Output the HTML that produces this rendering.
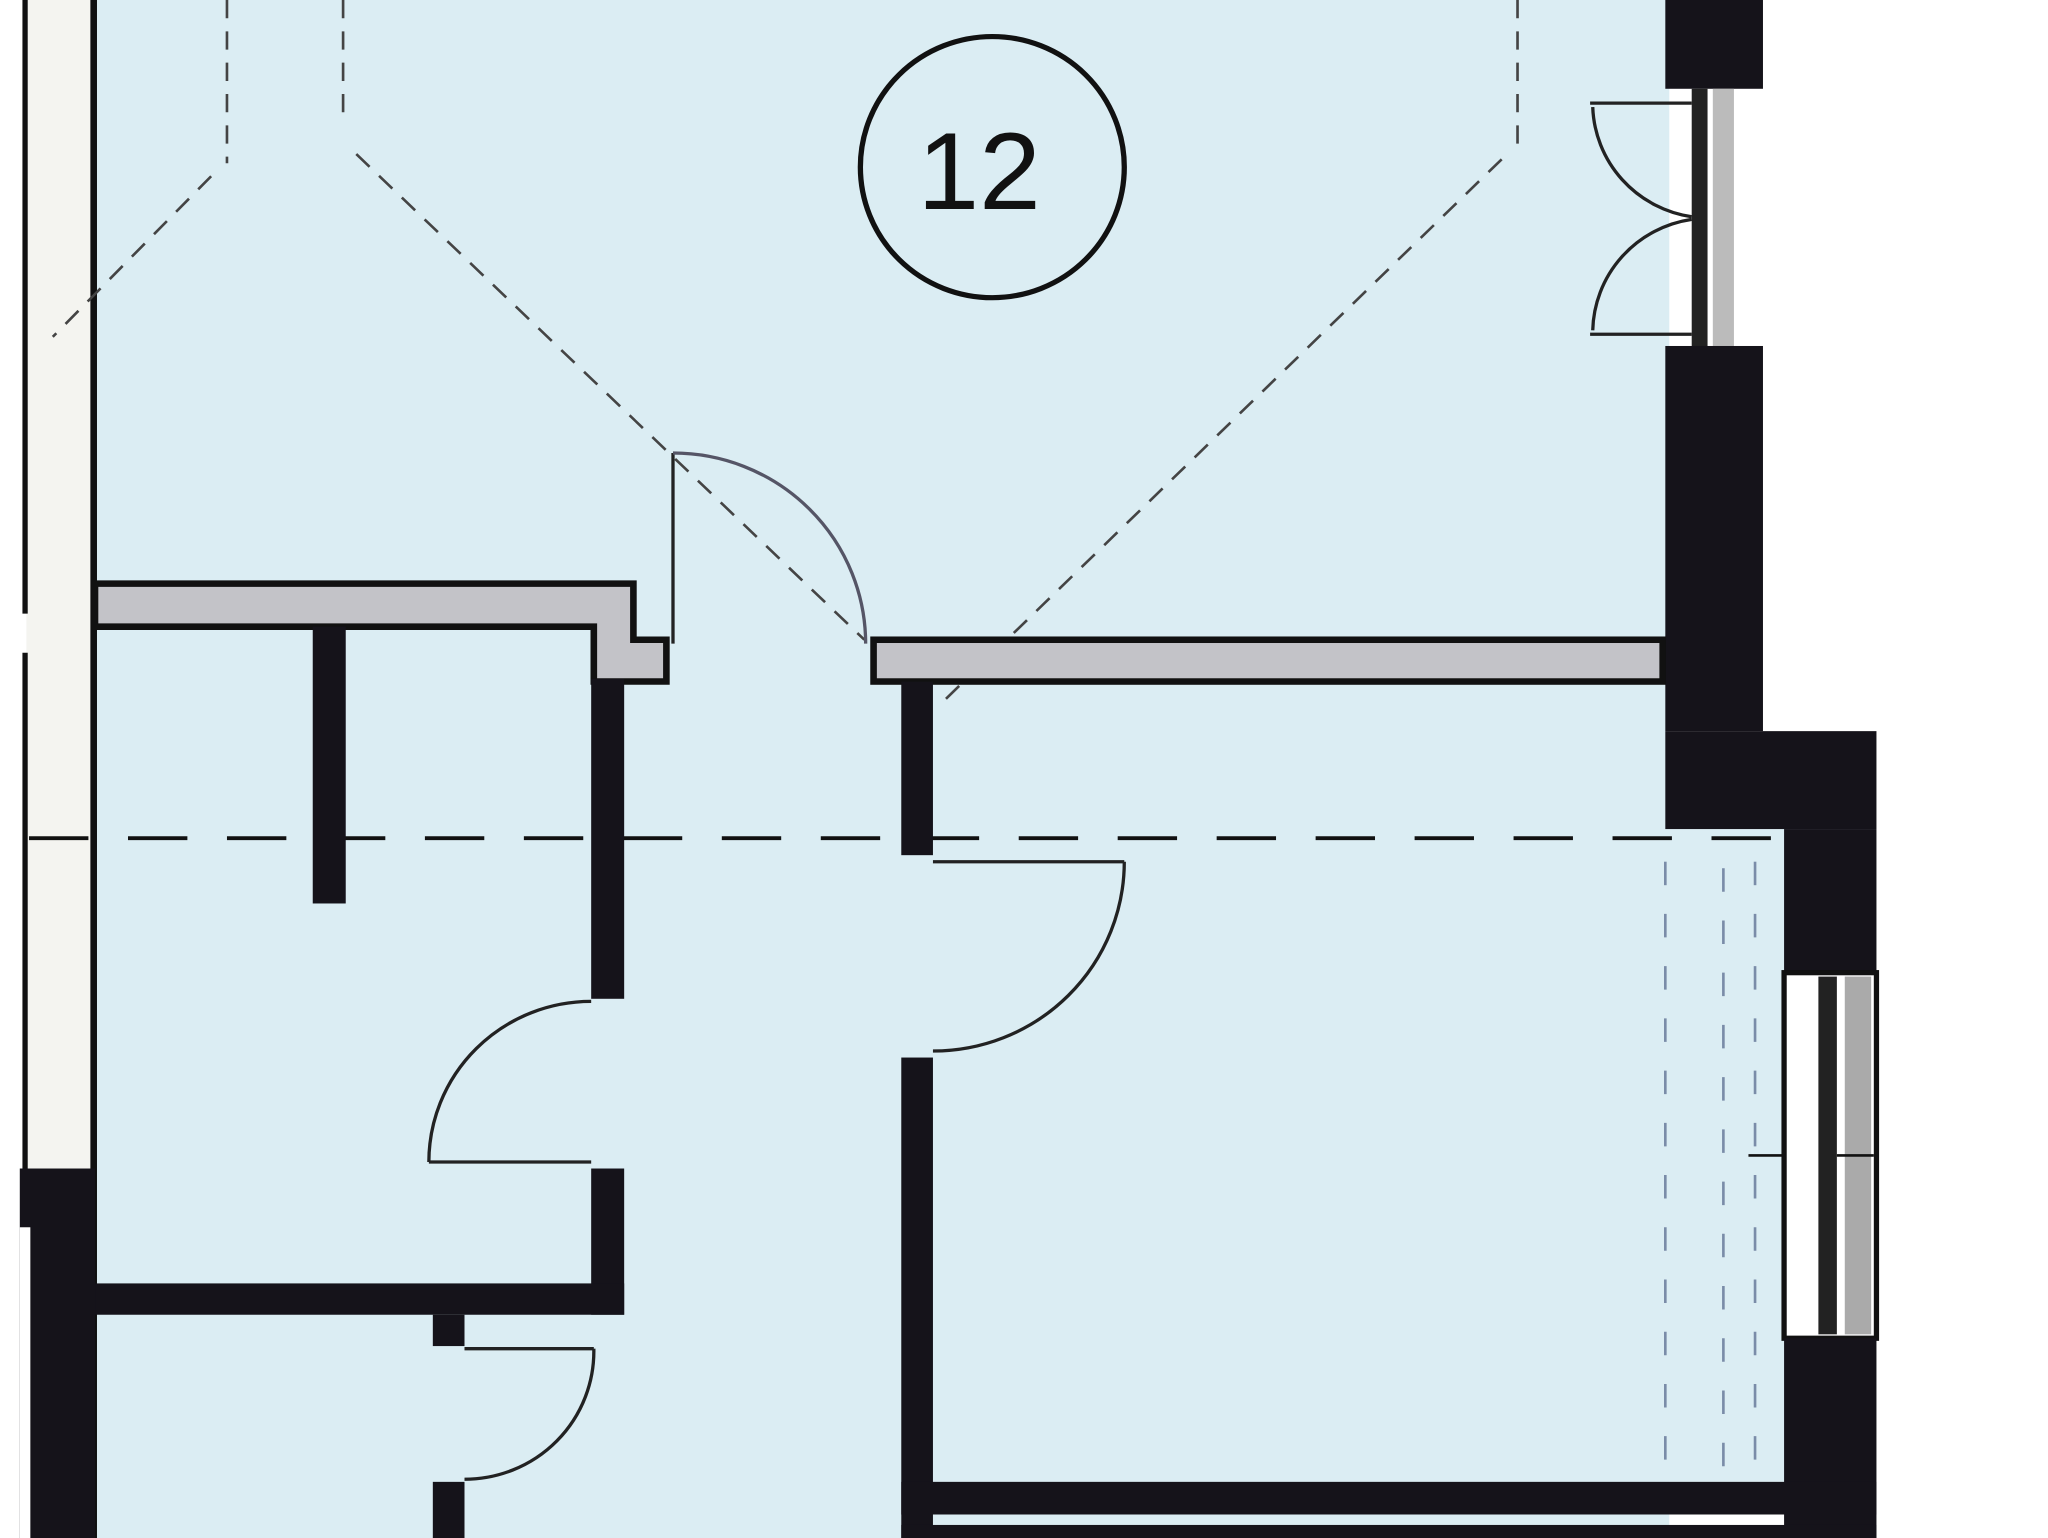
<!DOCTYPE html>
<html><head><meta charset="utf-8"><style>
html,body{margin:0;padding:0;background:#fff}
svg{display:block}
</style></head><body>
<svg width="2048" height="1538" viewBox="0 0 1552 1178" preserveAspectRatio="none" xmlns="http://www.w3.org/2000/svg">
<rect x="0" y="0" width="1552" height="1178" fill="#fff"/>
<!-- blue floor -->
<rect x="70" y="0" width="1195" height="1178" fill="#dbedf3"/>
<rect x="1260" y="635" width="95" height="500" fill="#dbedf3"/>
<!-- left strip -->
<rect x="20" y="0" width="50" height="895" fill="#f4f4f0"/>
<line x1="19" y1="0" x2="19" y2="470" stroke="#111" stroke-width="4"/>
<line x1="19" y1="500" x2="19" y2="940" stroke="#111" stroke-width="4"/>
<line x1="71" y1="0" x2="71" y2="1178" stroke="#111" stroke-width="5"/>
<rect x="15" y="895" width="57" height="283" fill="#15131a"/>
<rect x="15" y="940" width="8" height="238" fill="#fff"/>
<!-- dashed horizontal -->
<line x1="22" y1="642" x2="1350" y2="642" stroke="#111" stroke-width="3" stroke-dasharray="45,30"/>
<!-- dashed diagonals -->
<g stroke="#444" stroke-width="2" stroke-dasharray="14,10" fill="none">
<line x1="270" y1="118" x2="655" y2="490"/>
<line x1="1138" y1="122" x2="712" y2="540"/>
<line x1="160" y1="135" x2="40" y2="258"/>
<line x1="172" y1="0" x2="172" y2="125"/>
<line x1="260" y1="0" x2="260" y2="90"/>
<line x1="1150" y1="0" x2="1150" y2="110"/>
</g>
<g stroke="#7a8ca8" stroke-width="2" stroke-dasharray="18,22" fill="none">
<line x1="1262" y1="660" x2="1262" y2="1130"/>
<line x1="1306" y1="665" x2="1306" y2="1130"/>
<line x1="1330" y1="660" x2="1330" y2="1130"/>
</g>
<!-- right walls -->
<rect x="1262" y="0" width="74" height="68" fill="#15131a"/>
<rect x="1282" y="68" width="12" height="198" fill="#222"/>
<rect x="1298" y="68" width="16" height="198" fill="#bbb"/>
<rect x="1262" y="265" width="74" height="295" fill="#15131a"/>
<rect x="1262" y="560" width="160" height="75" fill="#15131a"/>
<rect x="1352" y="635" width="70" height="110" fill="#15131a"/>
<rect x="1352" y="745" width="70" height="280" fill="#fff" stroke="#111" stroke-width="4"/>
<rect x="1378" y="748" width="14" height="274" fill="#222"/>
<rect x="1398" y="748" width="20" height="274" fill="#aaa"/>
<rect x="1352" y="1025" width="70" height="153" fill="#15131a"/>
<line x1="1325" y1="885" x2="1352" y2="885" stroke="#111" stroke-width="2"/>
<line x1="1392" y1="885" x2="1420" y2="885" stroke="#111" stroke-width="2"/>
<!-- top-right doors -->
<g stroke="#222" stroke-width="2.5" fill="none">
<line x1="1205" y1="79" x2="1282" y2="79"/>
<line x1="1205" y1="256" x2="1282" y2="256"/>
<path d="M1207 82 A88 88 0 0 0 1282 166"/>
<path d="M1207 253 A88 88 0 0 1 1282 168"/>
</g>
<!-- gray walls -->
<path d="M72 447 H480 V490 H505 V522 H450 V480 H72 Z" fill="#c3c3c8" stroke="#111" stroke-width="5"/>
<rect x="662" y="490" width="598" height="32" fill="#c3c3c8" stroke="#111" stroke-width="5"/>
<!-- black walls -->
<g fill="#15131a">
<rect x="237" y="480" width="25" height="212"/>
<rect x="448" y="520" width="25" height="245"/>
<rect x="448" y="895" width="25" height="112"/>
<rect x="72" y="983" width="401" height="24"/>
<rect x="683" y="522" width="24" height="133"/>
<rect x="683" y="810" width="24" height="368"/>
<rect x="328" y="1007" width="24" height="24"/>
<rect x="328" y="1135" width="24" height="43"/>
<rect x="683" y="1135" width="739" height="25"/>
<rect x="683" y="1168" width="739" height="10"/>
</g>
<!-- doors -->
<g stroke="#222" stroke-width="2.5" fill="none">
<line x1="510" y1="347" x2="510" y2="493"/>
<path d="M510 347 A146 146 0 0 1 656 493" stroke="#556"/>
<line x1="707" y1="660" x2="852" y2="660"/>
<path d="M852 660 A145 145 0 0 1 707 805"/>
<line x1="325" y1="890" x2="448" y2="890"/>
<path d="M325 890 A123 123 0 0 1 448 767"/>
<line x1="352" y1="1033" x2="450" y2="1033"/>
<path d="M450 1033 A98 98 0 0 1 352 1133"/>
</g>
<!-- room label -->
<circle cx="752" cy="128" r="100" fill="none" stroke="#111" stroke-width="4"/>
<text x="742" y="160" text-anchor="middle" font-family="Liberation Sans, sans-serif" font-size="84" fill="#111">12</text>
</svg>
</body></html>
